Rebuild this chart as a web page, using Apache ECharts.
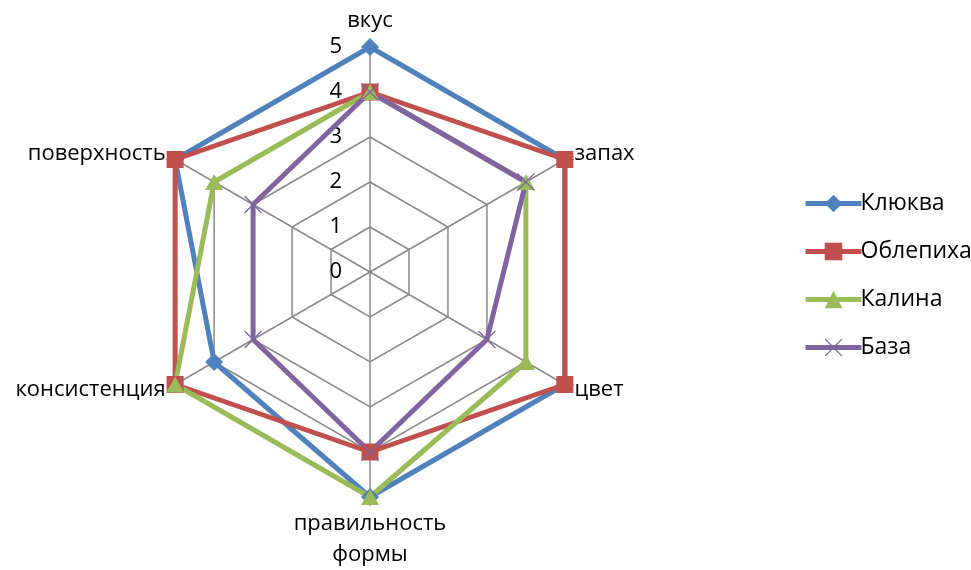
<!DOCTYPE html>
<html>
<head>
<meta charset="utf-8">
<script src="https://cdn.jsdelivr.net/npm/echarts@6/dist/echarts.min.js"></script>
<style>
  html, body { margin: 0; padding: 0; background: #fff; }
  #chart { width: 971px; height: 570px; }
</style>
</head>
<body>
<div id="chart"></div>
<script>
// indicators, listed counter-clockwise from the top
const indicators = ["вкус", "поверхность", "консистенция", "правильность\nформы", "цвет", "запах"];
const maxValue = 5;

const seriesNames = ["Клюква", "Облепиха", "Калина", "База"];
const klyukva = [5, 5, 4, 5, 5, 5];
const oblepikha = [4, 5, 5, 4, 5, 5];
const kalina = [4, 4, 5, 5, 4, 4];
const baza = [4, 3, 3, 4, 3, 4];
const seriesValues = [klyukva, oblepikha, kalina, baza];

const colors = ["#4F81BD", "#C0504D", "#9BBB59", "#8064A2"];
const crossPath = "path://M0,1L1,0L10,9L19,0L20,1L11,10L20,19L19,20L10,11L1,20L0,19L9,10Z";
const symbols = ["diamond", "rect", "triangle", crossPath];
const symbolSizes = [[18, 18], [17, 17], [18, 16], [18, 18]];

const font = "Open Sans";

const chart = echarts.init(document.getElementById("chart"));

// line series without data only give the legend its line + marker icons
const legendSeries = seriesNames.map((name, i) => ({
    name,
    type: "line",
    xAxisIndex: 0,
    yAxisIndex: 0,
    data: [],
    symbol: symbols[i],
    lineStyle: { color: colors[i], width: 5 },
    itemStyle: { color: colors[i] },
}));

const radarSeries = seriesNames.map((name, i) => ({
    name,
    type: "radar",
    symbol: symbols[i],
    symbolSize: symbolSizes[i],
    lineStyle: { color: colors[i], width: 5 },
    itemStyle: { color: colors[i] },
    data: [{ name, value: seriesValues[i] }],
}));

chart.setOption({
    animation: false,
    textStyle: { fontFamily: font },
    grid: { left: 0, top: 0, width: 10, height: 10, show: false },
    xAxis: { type: "category", show: false },
    yAxis: { type: "value", show: false },
    legend: {
        data: seriesNames,
        orient: "vertical",
        left: 798,
        top: 187,
        itemWidth: 56,
        itemHeight: 22,
        itemGap: 25,
        selectedMode: false,
        lineStyle: { width: 5 },
        textStyle: { fontSize: 23, color: "#000", fontFamily: font, padding: [0, 0, 0, -6] },
    },
    radar: {
        center: [370, 272],
        radius: 225,
        startAngle: 90,
        splitNumber: 5,
        shape: "polygon",
        nameGap: 11,
        axisName: { color: "#000", fontSize: 22, fontFamily: font, lineHeight: 31 },
        axisLine: { lineStyle: { color: "#898989", width: 1.5 } },
        splitLine: { lineStyle: { color: "#898989", width: 1.5 } },
        splitArea: { show: false },
        axisTick: { show: false },
        axisLabel: { show: false },
        indicator: indicators.map((name, i) => ({
            name,
            min: 0,
            max: maxValue,
            axisLabel: i === 0
                ? { show: true, color: "#000", fontSize: 22, fontFamily: font, margin: 28 }
                : { show: false },
        })),
    },
    series: legendSeries.concat(radarSeries),
});
</script>
</body>
</html>
